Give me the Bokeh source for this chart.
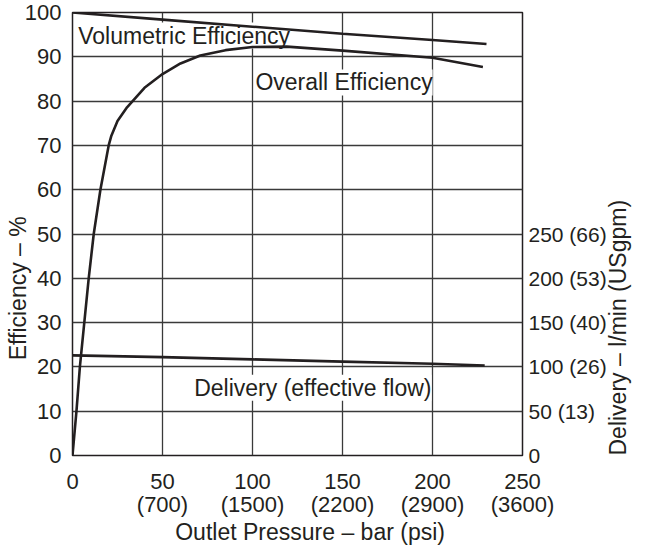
import math
from bokeh.plotting import figure
from bokeh.models import Range1d, LinearAxis, FixedTicker
from bokeh.core.properties import value
from bokeh.embed import file_html
from bokeh.resources import INLINE

# ---- data ----
pressure_ticks = [0, 50, 100, 150, 200, 250]
pressure_tick_labels = ["0", "50\n(700)", "100\n(1500)", "150\n(2200)", "200\n(2900)", "250\n(3600)"]
efficiency_ticks = [0, 10, 20, 30, 40, 50, 60, 70, 80, 90, 100]
flow_ticks = [0, 50, 100, 150, 200, 250]
flow_tick_labels = ["0", "50 (13)", "100 (26)", "150 (40)", "200 (53)", "250 (66)"]

vol_pressure = [0, 50, 100, 150, 200, 230]
vol_efficiency = [100, 98.4, 96.8, 95.2, 93.8, 92.9]

overall_pressure = [0, 2.2, 4.1, 9.0, 11.8, 15.5, 20.1, 21.6, 25, 30.3, 40, 50, 60, 71, 85, 100, 119, 150, 200, 228]
overall_efficiency = [0, 10, 20, 40, 50, 60, 70, 72.2, 75.5, 78.6, 83, 86.1, 88.5, 90.3, 91.5, 92.2, 92.3, 91.4, 89.8, 87.7]

delivery_pressure = [0, 50, 100, 150, 200, 229]
delivery_flow = [113, 111, 108.5, 106, 103.5, 101.5]

series_names = ["Volumetric Efficiency", "Overall Efficiency", "Delivery (effective flow)"]
x_title = "Outlet Pressure \u2013 bar (psi)"
y_title = "Efficiency \u2013 %"
y2_title = "Delivery \u2013 l/min (USgpm)"

# annotation anchor positions (data units)
name_x = [3.2, 101.6, 67.6]
name_y = [94.8, 84.2, 15.3]
x_title_at = 132
y2_title_at = 0

NBSP = "\u00a0"
FONT = "Liberation Sans"
INK = "#231f20"
TICK_SIZE = "22px"
RIGHT_TICK_SIZE = "21px"
TEXT_SIZE = "23px"

p = figure(width=646, height=550, x_range=Range1d(0, 250), y_range=Range1d(0, 100),
           output_backend="svg", toolbar_location=None,
           min_border_left=72, min_border_right=123, min_border_top=12, min_border_bottom=95,
           background_fill_color="white", border_fill_color="white")
p.extra_y_ranges = {"flow": Range1d(0, 500)}

# frame
p.outline_line_color = INK
p.outline_line_width = 1.5
p.outline_line_alpha = 1.0

# grid
p.xgrid.ticker = FixedTicker(ticks=pressure_ticks[1:-1])
p.ygrid.ticker = FixedTicker(ticks=efficiency_ticks[1:-1])
p.grid.grid_line_color = "#3a3a3a"
p.grid.grid_line_width = 1.3
p.grid.grid_line_alpha = 1.0

def style_axis(ax, standoff, size=TICK_SIZE):
    ax.axis_line_color = None
    ax.major_tick_line_color = None
    ax.minor_tick_line_color = None
    ax.major_tick_out = 0
    ax.major_tick_in = 0
    ax.minor_tick_out = 0
    ax.minor_tick_in = 0
    ax.major_label_text_font = FONT
    ax.major_label_text_font_size = size
    ax.major_label_text_color = INK
    ax.major_label_standoff = standoff
    ax.axis_label_text_font = FONT
    ax.axis_label_text_font_size = TEXT_SIZE
    ax.axis_label_text_font_style = "normal"
    ax.axis_label_text_color = INK

xa = p.xaxis[0]
xa.ticker = FixedTicker(ticks=pressure_ticks)
xa.major_label_overrides = {t: l for t, l in zip(pressure_ticks, pressure_tick_labels)}
style_axis(xa, 13)
xa.major_label_text_line_height = 0.92

ya = p.yaxis[0]
ya.ticker = FixedTicker(ticks=efficiency_ticks)
style_axis(ya, 11)

ra = LinearAxis(y_range_name="flow", ticker=FixedTicker(ticks=flow_ticks))
ra.major_label_overrides = {t: l for t, l in zip(flow_ticks, flow_tick_labels)}
style_axis(ra, 6, RIGHT_TICK_SIZE)
p.add_layout(ra, "right")

# x title: outer axis carrying one label
xt = LinearAxis(ticker=FixedTicker(ticks=[x_title_at]))
xt.major_label_overrides = {x_title_at: x_title}
style_axis(xt, -1, TEXT_SIZE)
p.add_layout(xt, "below")

# left title: tick-less outer axis; padding moves the visible text lower
yt = LinearAxis(ticker=FixedTicker(ticks=[]), axis_label=y_title + NBSP * 17)
style_axis(yt, 0)
yt.axis_label_standoff = -9
p.add_layout(yt, "left")

# right title: outer axis with one upward-reading label starting at the frame bottom
y2t = LinearAxis(ticker=FixedTicker(ticks=[y2_title_at]))
y2t.major_label_overrides = {y2_title_at: y2_title}
y2t.major_label_orientation = math.pi / 2
style_axis(y2t, 8, TEXT_SIZE)
p.add_layout(y2t, "right")

# curve names (white box hides the grid behind them)
p.text(x=name_x, y=name_y, text=series_names, text_font=value(FONT), text_font_size=TEXT_SIZE,
       text_color=INK, text_align="left", text_baseline="alphabetic",
       background_fill_color="white")

# curves
p.line(vol_pressure, vol_efficiency, line_width=2.6, line_color=INK)
p.line(overall_pressure, overall_efficiency, line_width=2.6, line_color=INK, line_join="round")
p.line(delivery_pressure, delivery_flow, line_width=2.6, line_color=INK, y_range_name="flow")

open("out.html", "w").write(file_html(p, INLINE))
